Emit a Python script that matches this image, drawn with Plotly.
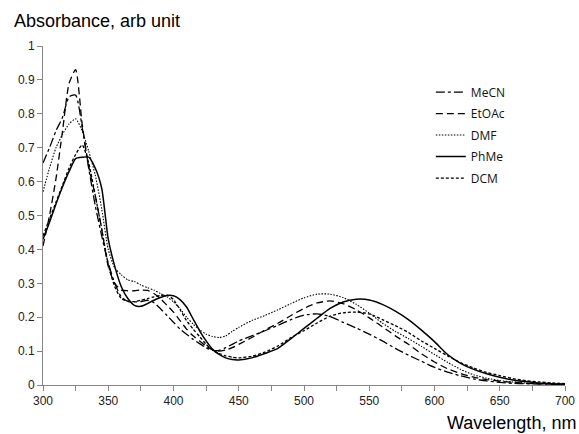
import plotly.graph_objects as go

wavelength = [300, 305, 310, 315, 320, 325, 330, 335, 340, 345, 350, 355, 360, 365, 370, 375,
              380, 385, 390, 395, 400, 405, 410, 415, 420, 425, 430, 435, 440, 445, 450, 460,
              470, 480, 490, 500, 510, 520, 530, 540, 550, 560, 570, 580, 590, 600, 610, 620,
              630, 640, 650, 660, 670, 680, 690, 700]

mecn = [0.655, 0.70, 0.75, 0.79, 0.85, 0.855, 0.76, 0.64, 0.53, 0.44, 0.36, 0.30, 0.26, 0.247, 0.245, 0.246,
        0.25, 0.243, 0.225, 0.205, 0.185, 0.165, 0.15, 0.135, 0.122, 0.11, 0.102, 0.102, 0.11, 0.12, 0.13, 0.145,
        0.16, 0.176, 0.193, 0.206, 0.21, 0.202, 0.185, 0.168, 0.15, 0.13, 0.108, 0.088, 0.07, 0.052, 0.038, 0.027,
        0.018, 0.012, 0.008, 0.005, 0.004, 0.003, 0.002, 0.002]

etoac = [0.41, 0.50, 0.61, 0.75, 0.89, 0.93, 0.77, 0.645, 0.56, 0.46, 0.35, 0.30, 0.28, 0.278, 0.278, 0.28,
         0.279, 0.27, 0.255, 0.235, 0.215, 0.19, 0.165, 0.145, 0.13, 0.115, 0.104, 0.10, 0.103, 0.11, 0.12, 0.14,
         0.162, 0.182, 0.205, 0.226, 0.242, 0.248, 0.24, 0.222, 0.198, 0.172, 0.145, 0.12, 0.092, 0.068, 0.048, 0.034,
         0.023, 0.016, 0.011, 0.008, 0.005, 0.004, 0.003, 0.002]

dmf = [0.57, 0.64, 0.70, 0.74, 0.77, 0.785, 0.75, 0.69, 0.62, 0.52, 0.40, 0.345, 0.325, 0.31, 0.305, 0.295,
       0.287, 0.28, 0.27, 0.26, 0.245, 0.225, 0.20, 0.18, 0.163, 0.15, 0.143, 0.14, 0.145, 0.158, 0.17, 0.19,
       0.205, 0.222, 0.24, 0.257, 0.268, 0.268, 0.258, 0.238, 0.212, 0.183, 0.158, 0.137, 0.114, 0.09, 0.067, 0.046,
       0.03, 0.02, 0.013, 0.009, 0.006, 0.004, 0.003, 0.002]

phme = [0.43, 0.48, 0.535, 0.585, 0.63, 0.668, 0.672, 0.672, 0.64, 0.58, 0.43, 0.35, 0.29, 0.255, 0.235, 0.232,
        0.24, 0.25, 0.258, 0.264, 0.263, 0.252, 0.23, 0.195, 0.16, 0.13, 0.105, 0.09, 0.08, 0.075, 0.074, 0.08,
        0.093, 0.108, 0.137, 0.167, 0.197, 0.226, 0.245, 0.253, 0.251, 0.238, 0.218, 0.193, 0.162, 0.128, 0.09, 0.064,
        0.046, 0.033, 0.023, 0.015, 0.01, 0.006, 0.004, 0.003]

dcm = [0.44, 0.49, 0.54, 0.59, 0.64, 0.68, 0.708, 0.655, 0.56, 0.46, 0.355, 0.29, 0.255, 0.247, 0.246, 0.25,
       0.255, 0.26, 0.264, 0.265, 0.252, 0.222, 0.19, 0.165, 0.143, 0.12, 0.103, 0.093, 0.086, 0.082, 0.08, 0.085,
       0.097, 0.115, 0.14, 0.16, 0.183, 0.203, 0.213, 0.215, 0.21, 0.193, 0.175, 0.155, 0.13, 0.108, 0.086, 0.066,
       0.05, 0.037, 0.028, 0.019, 0.013, 0.009, 0.006, 0.004]

series = [
    ("MeCN", mecn, "dashdot", 1.3),
    ("EtOAc", etoac, "7px,4px", 1.3),
    ("DMF", dmf, "1.5px,1.5px", 1.1),
    ("PhMe", phme, "solid", 1.5),
    ("DCM", dcm, "3px,2px", 1.3),
]

fig = go.Figure()
for name, vals, dash, w in series:
    fig.add_trace(go.Scatter(
        x=wavelength, y=vals, name=name, mode="lines",
        line=dict(color="black", width=w, dash=dash, shape="spline", smoothing=0.6),
        legendgroup=name,
    ))

font_family = "Liberation Sans, Arial, sans-serif"

fig.update_layout(
    width=579, height=434,
    margin=dict(l=43, r=14, t=46, b=49, autoexpand=False),
    paper_bgcolor="white", plot_bgcolor="white",
    font=dict(family=font_family, color="black", size=12),
    showlegend=True,
    legend=dict(
        x=0.743, y=0.907, xanchor="left", yanchor="top",
        bgcolor="rgba(0,0,0,0)", font=dict(size=12, family="Open Sans, sans-serif", color="#111"),
        traceorder="grouped", tracegroupgap=2.5, itemwidth=30,
    ),
    xaxis=dict(
        range=[300, 700], dtick=50, tick0=300, showgrid=False, zeroline=False,
        showline=True, linecolor="#868686", linewidth=1,
        ticks="outside", ticklen=5, tickcolor="#868686",
        minor=dict(dtick=25, ticks="outside", ticklen=5, tickcolor="#868686"),
        tickfont=dict(size=12, color="#222"),
    ),
    yaxis=dict(
        range=[0, 1], dtick=0.1, showgrid=False, zeroline=False,
        showline=True, linecolor="#868686", linewidth=1,
        ticks="outside", ticklen=5, tickcolor="#868686",
        tickfont=dict(size=12, color="#222"),
    ),
    annotations=[
        dict(text="Absorbance, arb unit", xref="paper", yref="paper",
             x=-0.059, y=1.074, xanchor="left", yanchor="middle", showarrow=False,
             font=dict(size=18, family=font_family, color="black")),
        dict(text="Wavelength, nm", xref="paper", yref="paper",
             x=1.025, y=-0.113, xanchor="right", yanchor="middle", showarrow=False,
             font=dict(size=18, family=font_family, color="black")),
    ],
)

fig.write_html("out.html", config={"displayModeBar": False},
               post_script="document.body.style.margin='0';document.body.style.padding='0';")
